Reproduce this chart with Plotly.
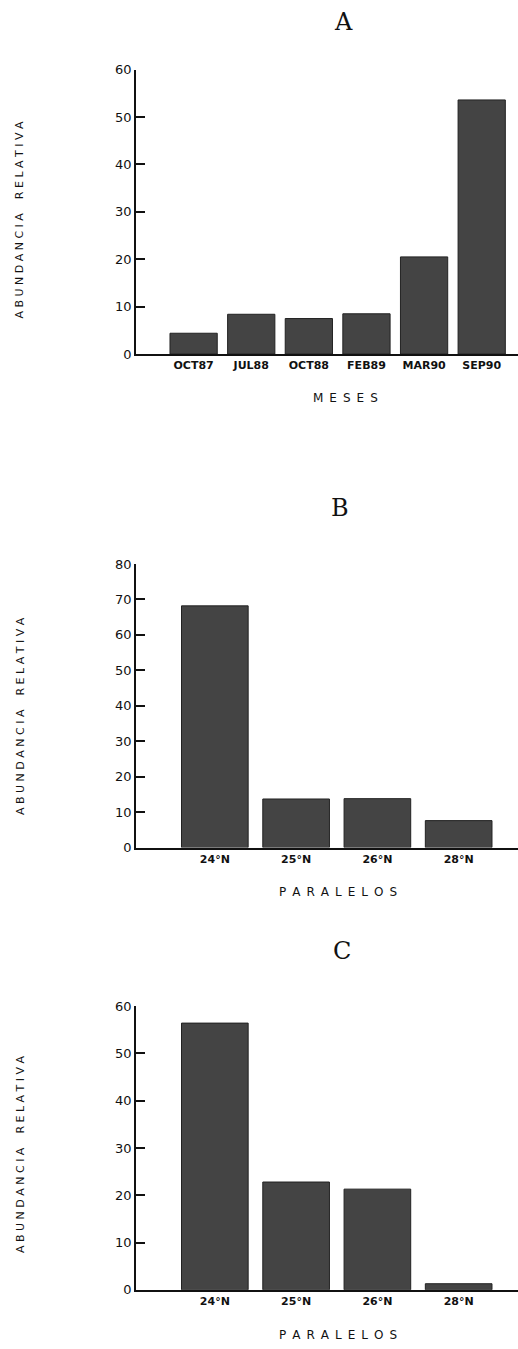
import plotly.graph_objects as go
from plotly.subplots import make_subplots

# Relative abundance by sampling month (A) and by parallel (B, C)
meses = ["OCT87", "JUL88", "OCT88", "FEB89", "MAR90", "SEP90"]
abund_meses = [4.4, 8.4, 7.5, 8.5, 20.5, 53.6]

paralelos = ["24°N", "25°N", "26°N", "28°N"]
abund_par_b = [68.2, 13.7, 13.8, 7.6]
abund_par_c = [56.4, 22.8, 21.3, 1.3]

W, H = 518, 1349
BAR_FILL = "#444444"
BAR_EDGE = "#222222"
TICK_FONT = dict(family="DejaVu Sans", size=13, color="#111")
CAT_FONT = dict(family="DejaVu Sans", size=11, color="#111", weight="bold")
LABEL_FONT = dict(family="DejaVu Sans", size=12, color="#111")
YLABEL_FONT = dict(family="DejaVu Sans", size=11, color="#111")
PANEL_FONT = dict(family="DejaVu Serif", size=24, color="#111")


def py(px):
    """Convert a pixel row (from top) to paper y."""
    return 1 - px / H


def spaced(word, sep="\u00a0"):
    return sep.join(word)


fig = make_subplots(rows=3, cols=1)

bar_marker = dict(color=BAR_FILL, line=dict(color=BAR_EDGE, width=1))
fig.add_trace(go.Bar(x=meses, y=abund_meses, marker=bar_marker), row=1, col=1)
fig.add_trace(go.Bar(x=paralelos, y=abund_par_b, marker=bar_marker), row=2, col=1)
fig.add_trace(go.Bar(x=paralelos, y=abund_par_c, marker=bar_marker), row=3, col=1)

x_dom = [136 / W, 1.0]
panels = [
    # (y top px, y bottom px, y max, x range)
    (63.3, 351.0, 60, [-1.0, 5.63]),
    (563.3, 850.0, 80, [-0.97, 3.73]),
    (1010.3, 1297.3, 60, [-0.97, 3.73]),
]

for i, (top, bot, ymax, xr) in enumerate(panels, start=1):
    fig.update_xaxes(
        row=i, col=1, domain=x_dom, type="category", range=xr,
        showline=True, linecolor="#111", linewidth=1.6, ticks="",
        tickfont=CAT_FONT, showgrid=False, zeroline=False, fixedrange=True,
    )
    fig.update_yaxes(
        row=i, col=1, domain=[py(bot), py(top)], range=[0, ymax],
        tickvals=list(range(0, ymax + 1, 10)),
        showline=True, linecolor="#111", linewidth=1.6,
        ticks="inside", ticklen=9, tickwidth=1.5, tickcolor="#111",
        tickfont=TICK_FONT, showgrid=False, zeroline=False,
    )

fig.update_layout(
    width=W, height=H, margin=dict(l=0, r=0, t=0, b=0),
    paper_bgcolor="white", plot_bgcolor="white",
    showlegend=False, bargap=0.18,
)

annotations = []
# Panel letters
for letter, x, y in [("A", 343, 15), ("B", 340, 507), ("C", 342, 955)]:
    annotations.append(dict(text=letter, x=x / W, y=py(y), xref="paper", yref="paper",
                            showarrow=False, font=PANEL_FONT, xanchor="center", yanchor="middle"))

# Horizontal axis titles
for word, x, y in [("MESES", 345, 395), ("PARALELOS", 338, 895), ("PARALELOS", 338, 1343)]:
    annotations.append(dict(text=spaced(word, "\u2002"), x=x / W, y=py(y), xref="paper", yref="paper",
                            showarrow=False, font=LABEL_FONT, xanchor="center", yanchor="middle"))

# Vertical axis titles
ytitle = spaced("ABUNDANCIA") + "\u00a0\u00a0\u00a0\u00a0" + spaced("RELATIVA")
for y in [215, 717, 1160]:
    annotations.append(dict(text=ytitle, x=20 / W, y=py(y), xref="paper", yref="paper",
                            showarrow=False, textangle=-90, font=YLABEL_FONT,
                            xanchor="center", yanchor="middle"))

fig.update_layout(annotations=annotations)

fig.write_html("out.html")
